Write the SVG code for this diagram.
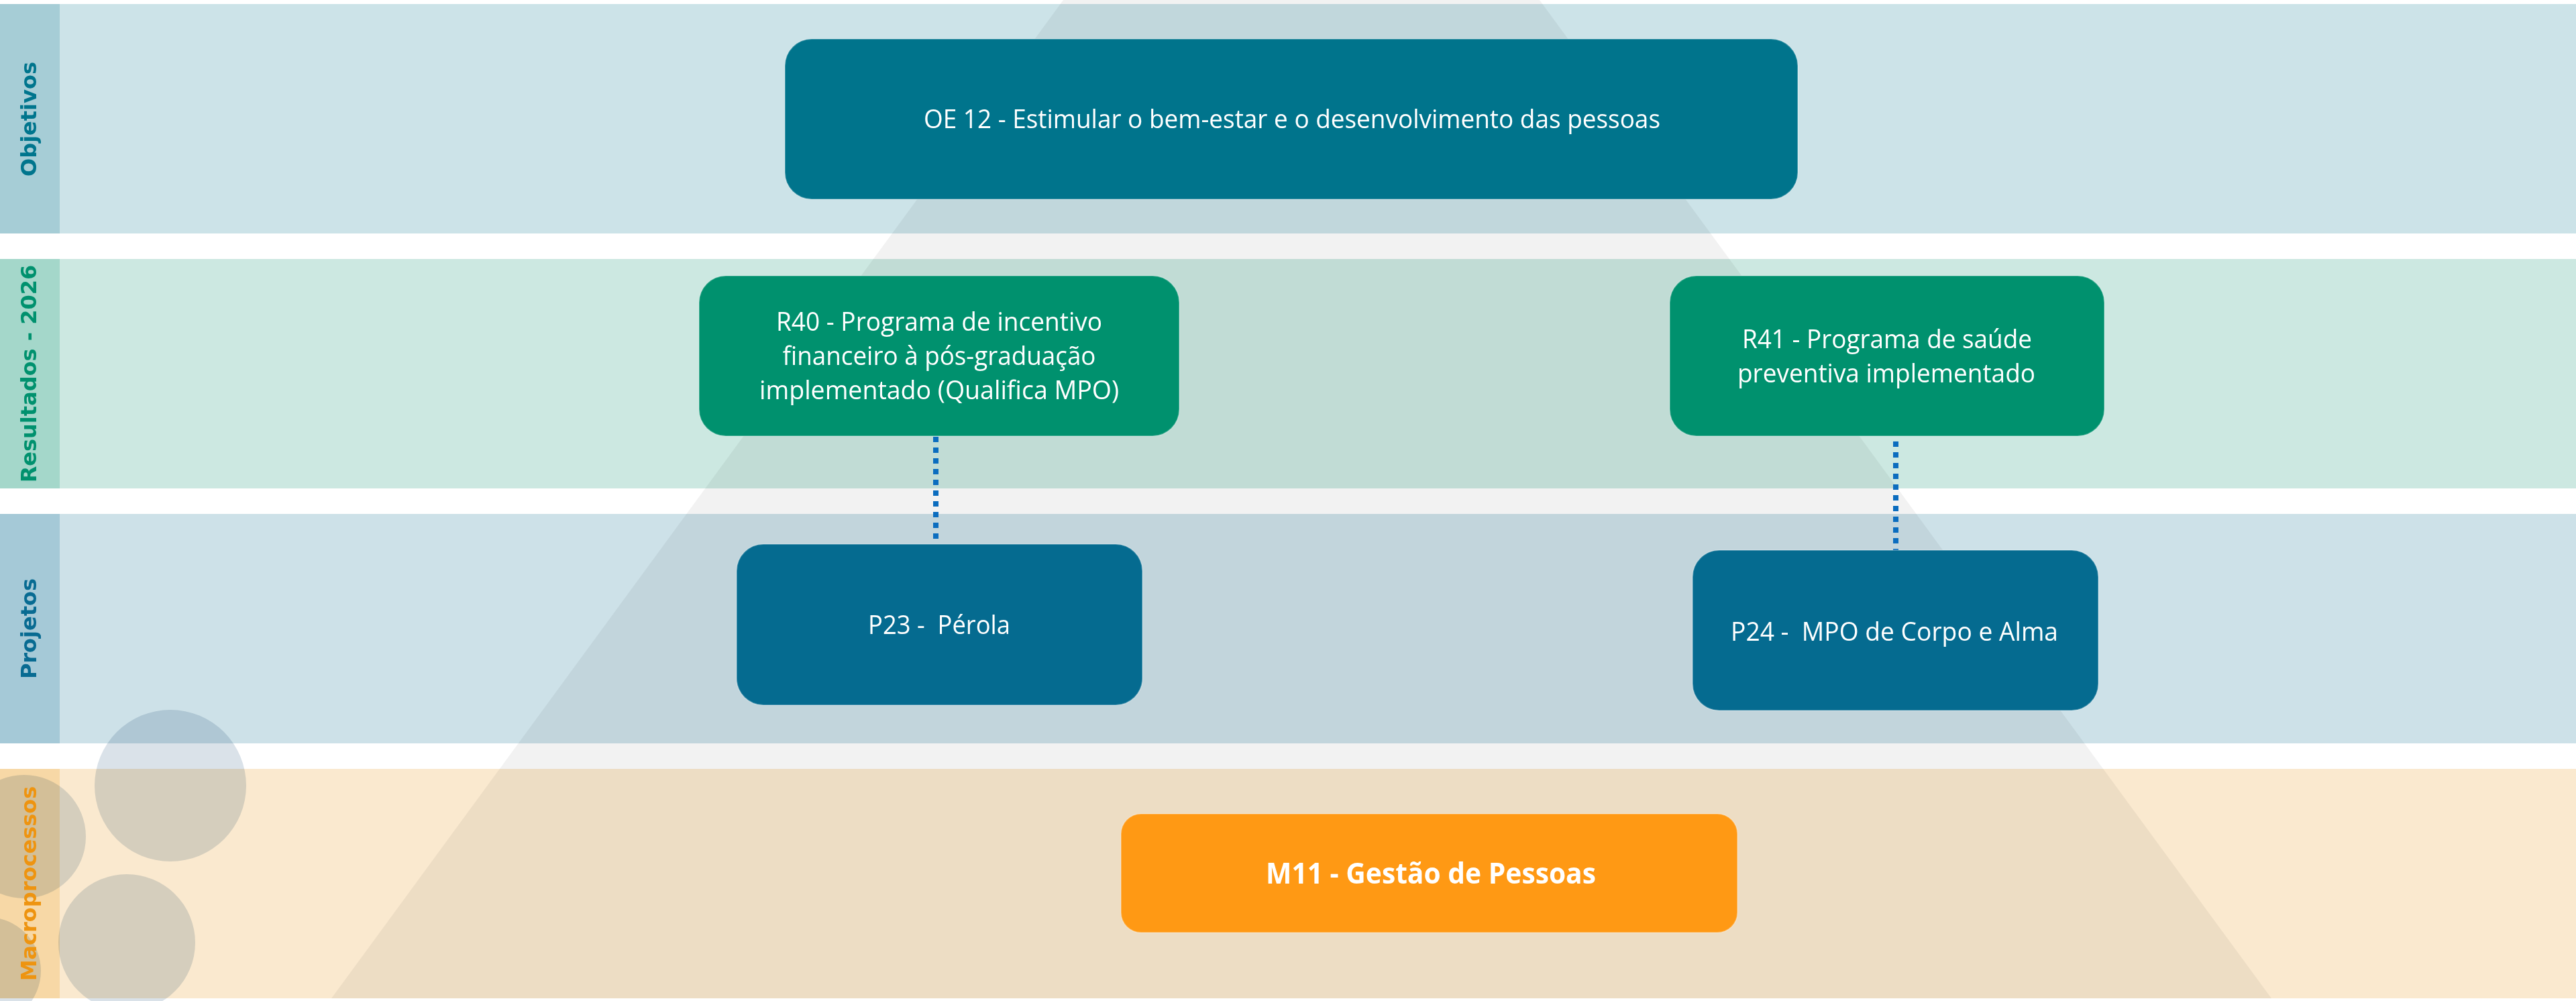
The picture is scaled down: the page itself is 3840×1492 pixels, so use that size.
<svg xmlns="http://www.w3.org/2000/svg" width="3840" height="1492" viewBox="0 0 3840 1492">
  <style>
    .lbl { font-family: "DejaVu Sans", Verdana, sans-serif; font-weight: bold; font-size: 32px; text-anchor: middle; }
    .nt { font-family: "Open Sans", "Noto Sans", sans-serif; font-size: 38px; fill: #ffffff; text-anchor: middle; }
    .ntb { font-family: "Open Sans", "Noto Sans", sans-serif; font-size: 43px; font-weight: bold; fill: #ffffff; text-anchor: middle; }
    .circ { fill: #DAE2E9; mix-blend-mode: multiply; }
    .conn { stroke: #0B6DBF; stroke-width: 8; stroke-dasharray: 8 8; fill: none; }
    .box { stroke: #ffffff; stroke-opacity: 0.25; stroke-width: 2; }
  </style>
  <rect x="0" y="0" width="3840" height="1492" fill="#ffffff"/>
  <g id="bands">
    <rect x="0" y="6" width="3840" height="342" fill="#CCE3E8"/>
    <rect x="0" y="386" width="3840" height="342" fill="#CCE8E1"/>
    <rect x="0" y="766" width="3840" height="342" fill="#CDE1E8"/>
    <rect x="0" y="1146" width="3840" height="342" fill="#FAE9CF"/>
    <rect x="0" y="6" width="89" height="342" fill="#A6CDD6"/>
    <rect x="0" y="386" width="89" height="342" fill="#A4D7CA"/>
    <rect x="0" y="766" width="89" height="342" fill="#A5C9D7"/>
    <rect x="0" y="1146" width="89" height="342" fill="#F7D8A6"/>
  </g>
  <polygon id="pyramid" points="1585,0 2295,0 3386,1488 494,1488" fill="#000000" fill-opacity="0.05"/>
  <g id="circles">
    <circle class="circ" cx="254" cy="1171" r="113"/>
    <circle class="circ" cx="36" cy="1247" r="92"/>
    <circle class="circ" cx="189" cy="1405" r="102"/>
    <circle class="circ" cx="-19" cy="1447" r="80"/>
  </g>
  <g id="lane-labels">
    <text class="lbl" fill="#00758D" transform="translate(54,177.5) rotate(-90)">Objetivos</text>
    <text class="lbl" fill="#00916E" transform="translate(54,557) rotate(-90)">Resultados - 2026</text>
    <text class="lbl" fill="#086B92" transform="translate(54,937) rotate(-90)">Projetos</text>
    <text class="lbl" fill="#EE9410" transform="translate(54,1317) rotate(-90)">Macroprocessos</text>
  </g>
  <g id="connectors">
    <line class="conn" x1="1395" y1="651" x2="1395" y2="811"/>
    <line class="conn" x1="2826" y1="658" x2="2826" y2="820"/>
  </g>
  <g id="OE12">
    <rect class="box" x="1170" y="58" width="1510" height="239" rx="40" fill="#00748C"/>
    <text class="nt" x="1926" y="191" textLength="1098" lengthAdjust="spacingAndGlyphs">OE 12 - Estimular o bem-estar e o desenvolvimento das pessoas</text>
  </g>
  <g id="R40">
    <rect class="box" x="1042" y="411" width="716" height="239" rx="40" fill="#00916E"/>
    <text class="nt" x="1400" y="493" textLength="486" lengthAdjust="spacingAndGlyphs">R40 - Programa de incentivo</text>
    <text class="nt" x="1400" y="544" textLength="467" lengthAdjust="spacingAndGlyphs">financeiro à pós-graduação</text>
    <text class="nt" x="1400" y="595" textLength="536" lengthAdjust="spacingAndGlyphs">implementado (Qualifica MPO)</text>
  </g>
  <g id="R41">
    <rect class="box" x="2489" y="411" width="648" height="239" rx="40" fill="#00916E"/>
    <text class="nt" x="2813" y="519" textLength="432" lengthAdjust="spacingAndGlyphs">R41 - Programa de saúde</text>
    <text class="nt" x="2812" y="570" textLength="444" lengthAdjust="spacingAndGlyphs">preventiva implementado</text>
  </g>
  <g id="P23">
    <rect class="box" x="1098" y="811" width="605" height="240" rx="40" fill="#056B90"/>
    <text class="nt" x="1400" y="945" textLength="212" lengthAdjust="spacingAndGlyphs" xml:space="preserve">P23 -  Pérola</text>
  </g>
  <g id="P24">
    <rect class="box" x="2523" y="820" width="605" height="239" rx="40" fill="#056B90"/>
    <text class="nt" x="2824" y="955" textLength="488" lengthAdjust="spacingAndGlyphs" xml:space="preserve">P24 -  MPO de Corpo e Alma</text>
  </g>
  <g id="M11">
    <rect class="box" x="1671" y="1213" width="919" height="177" rx="30" fill="#FF9914"/>
    <text class="ntb" x="2133" y="1317" textLength="492" lengthAdjust="spacingAndGlyphs">M11 - Gestão de Pessoas</text>
  </g>
</svg>
